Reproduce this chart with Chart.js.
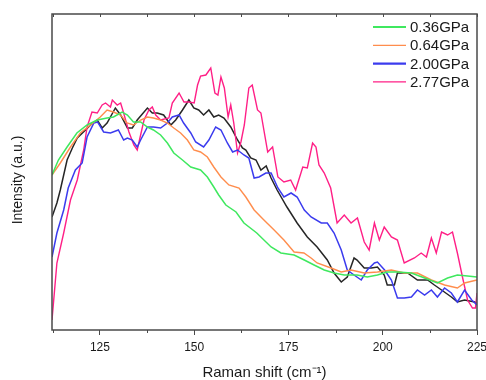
<!DOCTYPE html>
<html>
<head>
<meta charset="utf-8">
<script src="https://cdn.jsdelivr.net/npm/chart.js@4.4.1/dist/chart.umd.min.js"></script>
<style>
  html, body { margin: 0; padding: 0; background: #ffffff; }
  #wrap { position: relative; width: 486px; height: 380px; }
</style>
</head>
<body>
<div id="wrap"><canvas id="c" width="486" height="380"></canvas></div>
<script>
// Raman spectra at several pressures (intensity in arbitrary units)
const labels = ['0.36GPa', '0.64GPa', '2.00GPa', '2.77GPa', ''];

const shift036 = [112.3,114.0,116.3,118.9,121.6,124.3,126.9,128.6,130.9,132.3,133.9,135.8,137.6,139.2,141.1,142.9,144.6,146.9,149.1,151.7,153.5,155.2,156.5,158.4,161.1,163.2,166.6,170.4,173.0,176.5,179.2,181.8,184.5,187.1,189.8,193.2,195.9,198.6,201.2,203.9,207.6,211.1,214.5,217.2,219.8,222.5,225.0];
const int036   = [155,170,183,197,205,210,212,213,218,215,208,208,203,200,195,187,177,170,163,160,153,143,135,125,118,107,97,83,77,75,70,65,60,57,55,55,53,55,58,58,57,52,47,52,55,54,53];

const shift064 = [112.3,114.5,117.2,119.8,122.5,125.1,126.9,128.6,130.5,132.2,133.9,135.8,137.6,139.2,141.1,142.9,144.6,146.4,148.2,149.9,151.7,153.5,155.2,157.1,159.2,161.9,163.7,165.9,168.5,171.2,173.8,176.5,179.1,181.0,182.6,186.3,189.0,191.6,195.1,198.6,202.3,205.7,209.2,212.9,216.4,219.8,221.7,225.0];
const int064   = [155,167,183,197,205,213,220,218,215,207,205,210,213,212,210,207,202,197,190,180,178,173,163,153,145,142,133,120,110,100,90,78,77,72,67,62,58,60,57,58,60,57,57,50,45,42,47,50];

const shift200 = [112.3,113.6,115.4,116.6,118.5,120.3,121.6,123.4,124.4,126.0,127.8,129.9,131.3,132.3,133.6,134.9,135.8,137.6,139.2,141.1,142.9,144.2,146.0,147.2,149.1,150.4,152.5,153.9,155.7,157.1,158.8,160.2,161.5,163.2,164.5,165.9,167.2,169.0,170.4,172.2,173.8,175.7,177.3,179.2,181.0,183.7,185.3,187.1,189.0,190.6,192.4,194.3,195.9,197.8,198.6,200.5,202.3,203.9,205.7,207.6,209.2,211.1,212.9,214.5,216.4,218.2,219.8,221.7,223.6,225.0];
const int200   = [73,97,120,142,160,167,193,207,208,198,197,200,190,192,190,183,190,203,203,202,207,213,215,207,197,188,183,190,203,200,187,178,180,175,172,152,153,157,157,142,133,137,133,120,113,107,107,97,80,60,55,50,60,67,68,60,50,32,32,33,40,35,40,33,42,37,28,40,30,25];

const shift277 = [112.3,113.6,115.4,117.2,119.0,120.7,121.6,122.9,124.3,125.6,126.5,127.8,128.3,129.6,130.5,131.3,132.7,134.0,134.9,135.8,136.7,138.0,138.9,139.8,141.1,143.3,144.2,146.0,147.3,148.6,150.0,150.9,151.7,153.1,154.4,155.5,156.3,157.1,158.0,159.0,159.7,160.5,161.5,162.4,163.3,164.5,165.4,166.8,167.7,169.5,170.8,172.2,173.8,175.6,176.9,178.8,180.0,181.4,182.3,183.1,184.5,186.2,187.9,189.8,191.6,193.3,195.1,196.4,197.8,199.1,200.4,202.3,203.9,205.7,208.4,210.2,211.6,212.9,214.2,215.6,217.2,218.5,219.8,221.2,222.5,223.8,224.6,225.0];
const int277   = [10,67,97,130,150,180,203,218,217,225,227,223,230,225,227,217,198,185,180,195,210,220,223,215,210,212,227,237,228,228,227,245,254,255,262,237,235,253,242,213,225,207,177,188,205,242,245,220,217,178,183,153,148,150,140,163,162,187,183,165,157,142,107,115,107,112,88,80,107,90,103,93,90,67,72,77,73,92,77,98,95,98,77,52,30,22,22,37];

// unlabelled reference trace
const shiftRef = [112.3,113.6,114.5,116.3,117.7,119.0,121.2,122.5,124.3,125.6,126.9,129.1,130.5,132.3,133.6,134.9,137.6,138.9,140.2,141.9,143.8,145.1,146.9,148.6,149.9,151.2,152.5,153.9,155.2,156.5,157.9,159.7,161.5,162.8,163.7,165.0,166.4,167.7,169.1,170.4,172.0,174.6,177.3,180.0,182.6,185.3,187.1,189.0,190.6,192.4,193.2,195.1,197.0,198.6,200.4,201.2,203.1,203.9,206.6,209.2,211.9,213.7,215.6,218.2,219.8,221.7,224.4,225.0];
const intRef   = [113,127,140,170,182,192,200,205,210,202,207,222,215,202,202,210,222,217,217,215,205,210,220,230,222,220,215,220,213,215,212,203,190,182,180,172,170,160,164,152,140,123,107,93,83,70,57,48,53,72,70,62,62,63,55,45,45,57,57,50,50,45,40,33,28,30,28,27];

const xTickValues = [125, 150, 175, 200, 225];

const colors = ['#3fe85f', '#ff8d4d', '#3b3bee', '#ff1f86', '#262626'];
const widths = [1.5, 1.4, 1.5, 1.4, 1.5];
const FONT = '"Liberation Sans", Arial, sans-serif';
const AXIS = '#4a4a4a';

function pts(xs, ys) { return xs.map((x, i) => ({ x: x, y: ys[i] })); }
const isMajor = v => xTickValues.includes(v);

const series = [
  pts(shift036, int036),
  pts(shift064, int064),
  pts(shift200, int200),
  pts(shift277, int277),
  pts(shiftRef, intRef)
];

// frame around the plot, short minor ticks below it, inward ticks on the top edge,
// and the vertical axis title
const framePlugin = {
  id: 'frame',
  afterDatasetsDraw(chart) {
    const { ctx, chartArea: a, scales } = chart;
    ctx.save();
    ctx.strokeStyle = AXIS;
    ctx.lineWidth = 1.5;
    ctx.strokeRect(a.left, a.top, a.right - a.left, a.bottom - a.top);
    ctx.lineWidth = 1;
    scales.x.ticks.forEach(t => {
      const px = Math.round(scales.x.getPixelForValue(t.value)) + 0.5;
      ctx.beginPath();
      ctx.moveTo(px, a.top);
      ctx.lineTo(px, a.top + 3);
      if (!isMajor(t.value)) {
        ctx.moveTo(px, a.bottom);
        ctx.lineTo(px, a.bottom + 3);
      }
      ctx.stroke();
    });
    ctx.translate(18, (a.top + a.bottom) / 2 + 8);
    ctx.rotate(-Math.PI / 2);
    ctx.font = '14px ' + FONT;
    ctx.fillStyle = '#1a1a1a';
    ctx.textAlign = 'center';
    ctx.textBaseline = 'middle';
    ctx.fillText('Intensity (a.u.)', 0, 0);
    ctx.restore();
  }
};

// legend drawn inside the top-right corner of the plot
const legendPlugin = {
  id: 'innerLegend',
  afterDraw(chart) {
    const { ctx } = chart;
    ctx.save();
    ctx.font = '15px ' + FONT;
    ctx.textBaseline = 'middle';
    ctx.fillStyle = '#1a1a1a';
    const x0 = 373, x1 = 406, tx = 410, y0 = 27, dy = 18.3;
    chart.data.datasets.forEach((ds, i) => {
      if (!ds.label) return;
      const y = y0 + i * dy;
      ctx.strokeStyle = ds.borderColor;
      ctx.lineWidth = (i === 0 || i === 2) ? 2.2 : 1.3;
      ctx.beginPath();
      ctx.moveTo(x0, y);
      ctx.lineTo(x1, y);
      ctx.stroke();
      ctx.fillText(ds.label, tx, y + 1);
    });
    ctx.restore();
  }
};

new Chart(document.getElementById('c'), {
  type: 'line',
  data: {
    datasets: series.map((d, i) => ({
      label: labels[i],
      data: d,
      borderColor: colors[i],
      borderWidth: widths[i],
      pointRadius: 0,
      tension: 0,
      fill: false
    }))
  },
  options: {
    responsive: false,
    animation: false,
    devicePixelRatio: 1,
    layout: { padding: { top: 14, right: 9, left: 0, bottom: 0 } },
    plugins: { legend: { display: false }, tooltip: { enabled: false } },
    scales: {
      x: {
        type: 'linear',
        min: 112.3,
        max: 225,
        afterFit(s) { s.height = 50; s.paddingRight = 0; s.paddingLeft = 0; },
        border: { display: false },
        grid: {
          drawOnChartArea: false,
          drawTicks: true,
          tickLength: 5,
          tickColor: ctx => isMajor(ctx.tick && ctx.tick.value) ? AXIS : 'rgba(0,0,0,0)'
        },
        ticks: {
          stepSize: 12.5,
          includeBounds: false,
          autoSkip: false,
          maxRotation: 0,
          padding: 5,
          color: '#1a1a1a',
          font: { family: FONT, size: 12 },
          callback: v => isMajor(v) ? String(v) : ''
        },
        title: {
          display: true,
          text: 'Raman shift (cm\u207B\u00B9)',
          color: '#1a1a1a',
          font: { family: FONT, size: 15, lineHeight: 1 },
          padding: { top: 0, bottom: 0 }
        }
      },
      y: {
        min: 0,
        max: 316,
        afterFit(s) { s.width = 52; },
        border: { display: false },
        grid: { display: false },
        ticks: { display: false }
      }
    }
  },
  plugins: [framePlugin, legendPlugin]
});
</script>
</body>
</html>
